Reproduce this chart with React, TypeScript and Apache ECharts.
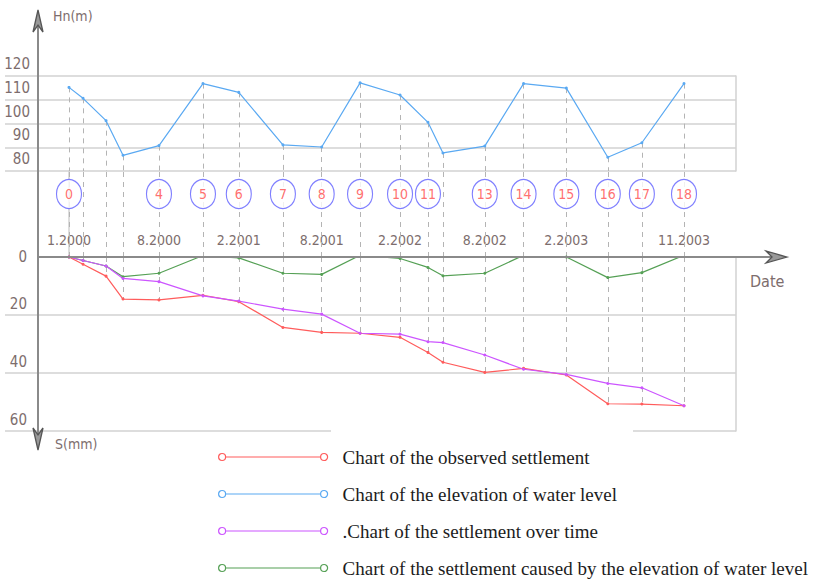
import { useEffect, useRef } from "react";
import * as echarts from "echarts";

const pointIds = [0, 1, 2, 3, 4, 5, 6, 7, 8, 9, 10, 11, 12, 13, 14, 15, 16, 17, 18];
const monthX = [0, 1.05, 2.77, 4.04, 6.73, 10.02, 12.7, 16.0, 18.9, 21.77, 24.76, 26.85, 27.97, 31.1, 34.0, 37.2, 40.3, 42.85, 46.0];

// Elevation of water level Hn (m)
const waterLevel = [115.2, 110.6, 101.2, 86.6, 90.7, 116.8, 113.1, 91.0, 90.1, 117.1, 112.0, 100.5, 87.6, 90.5, 116.8, 114.9, 85.8, 91.9, 116.8];
// Settlement S (mm)
const observedSettlement = [0, 2.5, 6.6, 14.5, 14.8, 13.2, 15.4, 24.3, 26.0, 26.3, 27.7, 32.9, 36.3, 39.8, 38.4, 40.7, 50.6, 50.7, 51.3];
const settlementOverTime = [0, 1.2, 3.1, 7.4, 8.5, 13.4, 15.2, 18.0, 19.7, 26.3, 26.6, 29.2, 29.5, 33.8, 38.7, 40.5, 43.6, 45.1, 51.3];
const settlementByWater = [0, 1.2, 3.1, 6.8, 5.6, -0.5, 0.3, 5.6, 6.0, -0.6, 0.5, 3.6, 6.5, 5.6, -0.6, 0.0, 7.1, 5.4, -0.6];

// Circled point numbers
const circledPoints = [0, 4, 5, 6, 7, 8, 9, 10, 11, 13, 14, 15, 16, 17, 18];

// Date tick labels and the points they belong to
const datePoints = [0, 4, 6, 8, 10, 13, 15, 18];
const dateLabels = ["1.2000", "8.2000", "2.2001", "8.2001", "2.2002", "8.2002", "2.2003", "11.2003"];

// Axis titles
const upperAxisName = "Hn(m)";
const lowerAxisName = "S(mm)";
const timeAxisName = "Date";

const seriesNames = [
  "Chart of the observed settlement",
  "Chart of the elevation of water level",
  ".Chart of the settlement over time",
  "Chart of the settlement caused by the elevation of water level",
];
const seriesColors = ["#ff5c5c", "#5aa9f2", "#cc55ff", "#55a055"];
const legendOrder = [0, 1, 2, 3];

const X_MIN = -4.787;
const X_MAX = 49.89;
const CAD_FONT = "'DejaVu Sans Condensed', 'Liberation Sans', sans-serif";
const CAD_COLOR = "#7d6d6d";
const GRID_COLOR = "#d2d2d2";
const AXIS_COLOR = "#8a8a8a";
const DASH_COLOR = "#b4b4b4";

const legendIcon =
  "path://M0.5,4A3.5,3.5,0,1,1,7.5,4A3.5,3.5,0,1,1,0.5,4ZM7.5,4L102.5,4M102.5,4A3.5,3.5,0,1,1,109.5,4A3.5,3.5,0,1,1,102.5,4Z";

export default function App() {
  const ref = useRef<HTMLDivElement>(null);

  useEffect(() => {
    document.body.style.margin = "0";
    if (!ref.current) return;
    const chart = echarts.init(ref.current, undefined, { renderer: "svg" });

    const dateX = datePoints.map((i) => monthX[i]);
    const dashedMark = (pairs: any[]) => ({
      symbol: ["none", "none"],
      silent: true,
      z: 1,
      label: { show: false },
      emphasis: { disabled: true },
      lineStyle: { type: [5, 5], color: DASH_COLOR, width: 1 },
      data: pairs,
    });

    const lineSeries = (name: string, color: string, values: number[], xIdx: number, yIdx: number, extra: any = {}) => ({
      name,
      type: "line",
      xAxisIndex: xIdx,
      yAxisIndex: yIdx,
      data: values.map((v, i) => [monthX[i], v]),
      symbol: "circle",
      symbolSize: 3,
      showSymbol: true,
      lineStyle: { color, width: 1.2 },
      itemStyle: { color },
      emphasis: { disabled: true },
      z: 3,
      ...extra,
    });

    const cadTitle = (text: string, left: number, top: number, size: number) => ({
      text,
      left,
      top,
      padding: 0,
      textStyle: { color: CAD_COLOR, fontFamily: CAD_FONT, fontSize: size, fontWeight: "normal" },
    });

    const option: any = {
      animation: false,
      title: [
        cadTitle(upperAxisName, 53, 9, 14),
        cadTitle(lowerAxisName, 55, 437, 14),
        cadTitle(timeAxisName, 750, 273, 16),
      ],
      grid: [
        { left: 5, right: 88, top: 76, height: 95 },
        { left: 5, right: 88, top: 171, height: 86 },
        { left: 5, right: 88, top: 257, height: 174 },
      ],
      xAxis: [
        { gridIndex: 0, type: "value", min: X_MIN, max: X_MAX, show: false },
        { gridIndex: 1, type: "value", min: X_MIN, max: X_MAX, show: false },
        {
          gridIndex: 2,
          type: "value",
          min: X_MIN,
          max: X_MAX,
          position: "top",
          axisLine: { show: false },
          axisTick: { show: false },
          splitLine: { show: false },
          axisLabel: {
            customValues: dateX,
            margin: 10,
            color: CAD_COLOR,
            fontFamily: CAD_FONT,
            fontSize: 14,
            formatter: (v: number) => {
              const k = dateX.findIndex((d) => Math.abs(d - v) < 1e-6);
              return k >= 0 ? dateLabels[k] : "";
            },
          },
        },
      ],
      yAxis: [
        {
          gridIndex: 0,
          type: "value",
          min: 80,
          max: 120,
          interval: 10,
          offset: -33,
          axisLine: { show: false },
          axisTick: { show: false },
          splitLine: { show: true, lineStyle: { color: GRID_COLOR, width: 1.5 } },
          axisLabel: {
            margin: 8,
            formatter: (v: number) => `{n|${v}}`,
            rich: { n: { padding: [0, 0, 24, 0], fontFamily: CAD_FONT, fontSize: 15, color: CAD_COLOR } },
          },
        },
        {
          gridIndex: 0,
          type: "value",
          position: "right",
          min: 80,
          max: 120,
          axisLine: { show: true, lineStyle: { color: GRID_COLOR, width: 1.5 } },
          axisTick: { show: false },
          axisLabel: { show: false },
          splitLine: { show: false },
        },
        {
          gridIndex: 1,
          type: "value",
          position: "right",
          min: 0,
          max: 1,
          axisLine: { show: true, lineStyle: { color: GRID_COLOR, width: 1.5 } },
          axisTick: { show: false },
          axisLabel: { show: false },
          splitLine: { show: false },
        },
        {
          gridIndex: 2,
          type: "value",
          inverse: true,
          min: 0,
          max: 60,
          interval: 20,
          offset: -33,
          axisLine: { show: false },
          axisTick: { show: false },
          splitLine: { show: true, showMinLine: false, lineStyle: { color: GRID_COLOR, width: 1.5 } },
          axisLabel: {
            margin: 11,
            formatter: (v: number) => (v === 0 ? `{z|${v}}` : `{n|${v}}`),
            rich: {
              z: { fontFamily: CAD_FONT, fontSize: 15, color: CAD_COLOR },
              n: { padding: [0, 0, 22, 0], fontFamily: CAD_FONT, fontSize: 15, color: CAD_COLOR },
            },
          },
        },
        {
          gridIndex: 2,
          type: "value",
          position: "right",
          inverse: true,
          min: 0,
          max: 60,
          axisLine: { show: true, lineStyle: { color: GRID_COLOR, width: 1.5 } },
          axisTick: { show: false },
          axisLabel: { show: false },
          splitLine: { show: false },
        },
      ],
      legend: {
        orient: "vertical",
        left: 218,
        top: 447,
        padding: 0,
        itemWidth: 109,
        itemHeight: 7,
        itemGap: 17,
        icon: legendIcon,
        selectedMode: false,
        textStyle: {
          fontFamily: "Liberation Serif",
          fontSize: 19,
          color: "#1c1c1c",
          lineHeight: 20,
          padding: [0, 0, 0, 10],
        },
        data: legendOrder.map((i) => ({
          name: seriesNames[i],
          itemStyle: { color: "#ffffff", borderColor: seriesColors[i], borderWidth: 1.2 },
        })),
      },
      series: [
        lineSeries(seriesNames[1], seriesColors[1], waterLevel, 0, 0, {
          markLine: dashedMark(pointIds.map((i) => [{ coord: [monthX[i], waterLevel[i]] }, { coord: [monthX[i], 80] }])),
        }),
        {
          type: "scatter",
          name: "points",
          xAxisIndex: 1,
          yAxisIndex: 2,
          symbol: "circle",
          symbolSize: [25, 29],
          z: 4,
          silent: true,
          itemStyle: { color: "#ffffff", borderColor: "#5f5fff", borderWidth: 1.2 },
          label: {
            show: true,
            position: "inside",
            formatter: (p: any) => p.name,
            color: "#ff4a4a",
            fontFamily: CAD_FONT,
            fontSize: 14,
          },
          data: circledPoints.map((i) => ({ name: String(pointIds[i]), value: [monthX[i], 0.733] })),
          markLine: dashedMark(pointIds.map((i) => [{ coord: [monthX[i], 0] }, { coord: [monthX[i], 1] }])),
        },
        lineSeries(seriesNames[3], seriesColors[3], settlementByWater, 2, 3),
        lineSeries(seriesNames[0], seriesColors[0], observedSettlement, 2, 3, {
          markLine: dashedMark(
            pointIds.map((i) => [
              { coord: [monthX[i], 0] },
              { coord: [monthX[i], Math.max(observedSettlement[i], settlementOverTime[i])] },
            ])
          ),
        }),
        lineSeries(seriesNames[2], seriesColors[2], settlementOverTime, 2, 3),
      ],
      graphic: [
        { type: "rect", shape: { x: 331, y: 426, width: 302, height: 10 }, style: { fill: "#fff" }, z: 50 },
        { type: "line", shape: { x1: 38, y1: 14, x2: 38, y2: 446 }, style: { stroke: AXIS_COLOR, lineWidth: 2 }, z: 60 },
        { type: "line", shape: { x1: 38, y1: 257, x2: 784, y2: 257 }, style: { stroke: AXIS_COLOR, lineWidth: 2 }, z: 60 },
        {
          type: "polygon",
          shape: { points: [[38, 10], [33, 32], [38, 25], [43, 32]] },
          style: { fill: "#999", stroke: "#555", lineWidth: 1.3 },
          z: 61,
        },
        {
          type: "polygon",
          shape: { points: [[38, 450], [33, 428], [38, 435], [43, 428]] },
          style: { fill: "#999", stroke: "#555", lineWidth: 1.3 },
          z: 61,
        },
        {
          type: "polygon",
          shape: { points: [[787, 257], [766, 251], [772, 257], [766, 263]] },
          style: { fill: "#999", stroke: "#555", lineWidth: 1.3 },
          z: 61,
        },
      ],
    };

    chart.setOption(option);
    return () => chart.dispose();
  }, []);

  return <div ref={ref} style={{ width: 824, height: 582 }} />;
}
